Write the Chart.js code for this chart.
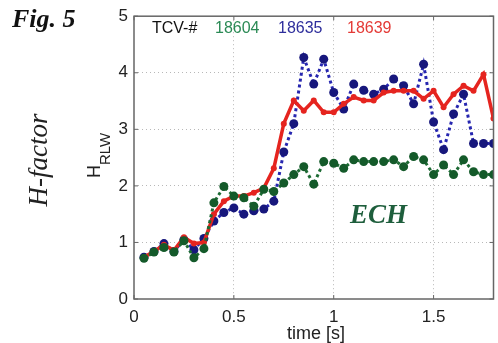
<!DOCTYPE html>
<html>
<head>
<meta charset="utf-8">
<script src="https://cdn.jsdelivr.net/npm/chart.js@4/dist/chart.umd.min.js"></script>
<style>
  html, body { margin: 0; padding: 0; background: #fff; }
  canvas { display: block; }
</style>
</head>
<body>
<canvas id="hfactor" width="498" height="343"></canvas>
<script>
// sample times [s]
const times = [0.05, 0.10, 0.15, 0.20, 0.25, 0.30, 0.35, 0.40, 0.45, 0.50, 0.55, 0.60,
  0.65, 0.70, 0.75, 0.80, 0.85, 0.90, 0.95, 1.00, 1.05, 1.10, 1.15, 1.20,
  1.25, 1.30, 1.35, 1.40, 1.45, 1.50, 1.55, 1.60, 1.65, 1.70, 1.75, 1.80]

// H_RLW per shot
const shot18604 = [0.72, 0.83, 0.91, 0.83, 1.03, 0.73, 0.89, 1.70, 1.99, 1.82, 1.79, 1.64,
  1.94, 1.90, 2.05, 2.20, 2.34, 2.03, 2.43, 2.40, 2.31, 2.46, 2.43, 2.43,
  2.43, 2.46, 2.34, 2.52, 2.46, 2.20, 2.37, 2.20, 2.46, 2.25, 2.20, 2.20]
const shot18635 = [0.74, 0.84, 0.98, 0.84, 1.05, 0.87, 1.07, 1.38, 1.53, 1.61, 1.50, 1.56,
  1.59, 1.73, 2.60, 3.10, 4.27, 3.80, 4.24, 3.65, 3.36, 3.80, 3.69, 3.62,
  3.71, 3.89, 3.77, 3.45, 4.15, 3.13, 2.64, 3.27, 3.62, 2.75, 2.75, 2.75]
const shot18639 = [0.74, 0.84, 0.96, 0.86, 1.09, 0.98, 1.00, 1.50, 1.73, 1.82, 1.82, 1.88,
  1.96, 2.31, 3.10, 3.51, 3.33, 3.51, 3.30, 3.30, 3.45, 3.57, 3.51, 3.51,
  3.65, 3.68, 3.68, 3.68, 3.54, 3.68, 3.39, 3.62, 3.77, 3.68, 3.97, 3.19]

const xTicks = [0, 0.5, 1, 1.5]
const yTicks = [0, 1, 2, 3, 4, 5]

const GREEN = '#1d6b34'
const BLUE = '#2626b0'
const RED = '#e5241f'
const SANS = '"Liberation Sans", Arial, sans-serif'
const SERIF = '"Liberation Serif", "Times New Roman", serif'

const toPoints = (values) => times.map((t, i) => ({ x: t, y: values[i] }))

// dotted grid inside the box, nothing on the frame itself
const gridColor = (ctx) => {
  const v = ctx.tick && ctx.tick.value
  return v === 0 || v === 5 || v === 1.8 ? 'rgba(0,0,0,0)' : '#b8b8b8'
}

// frame with inward tick marks plus all the free text
const annotations = {
  id: 'annotations',
  afterDraw(chart) {
    const { ctx, chartArea: a, scales } = chart
    ctx.save()

    ctx.strokeStyle = '#666'
    ctx.lineWidth = 1.5
    ctx.strokeRect(a.left, a.top, a.right - a.left, a.bottom - a.top)

    ctx.lineWidth = 1
    xTicks.forEach((v) => {
      const x = scales.x.getPixelForValue(v)
      ctx.beginPath()
      ctx.moveTo(x, a.bottom); ctx.lineTo(x, a.bottom - 4)
      ctx.moveTo(x, a.top); ctx.lineTo(x, a.top + 4)
      ctx.stroke()
    })
    yTicks.forEach((v) => {
      const y = scales.y.getPixelForValue(v)
      ctx.beginPath()
      ctx.moveTo(a.left, y); ctx.lineTo(a.left + 4, y)
      ctx.moveTo(a.right, y); ctx.lineTo(a.right - 4, y)
      ctx.stroke()
    })

    ctx.fillStyle = '#111'
    ctx.textBaseline = 'alphabetic'
    ctx.font = `italic bold 26px ${SERIF}`
    ctx.fillText('Fig. 5', 12, 27)

    // legend row
    ctx.font = `16px ${SANS}`
    ctx.fillStyle = '#111'
    ctx.fillText('TCV-#', 152, 33)
    ctx.fillStyle = '#2b8a55'
    ctx.fillText('18604', 215, 33)
    ctx.fillStyle = '#2e2e9c'
    ctx.fillText('18635', 278, 33)
    ctx.fillStyle = '#e43a36'
    ctx.fillText('18639', 347, 33)

    ctx.fillStyle = '#1e5e3c'
    ctx.font = `italic bold 27px ${SERIF}`
    ctx.fillText('ECH', 350, 223)

    ctx.fillStyle = '#222'
    ctx.font = `18px ${SANS}`
    ctx.textAlign = 'center'
    ctx.fillText('time [s]', 316, 339)

    // rotated y labels
    ctx.save()
    ctx.translate(40, 160)
    ctx.rotate(-Math.PI / 2)
    ctx.textBaseline = 'middle'
    ctx.fillStyle = '#222'
    ctx.font = `italic 27px ${SERIF}`
    ctx.fillText('H-factor', 0, 0)
    ctx.restore()

    ctx.save()
    ctx.translate(100, 178)
    ctx.rotate(-Math.PI / 2)
    ctx.textAlign = 'left'
    ctx.fillStyle = '#222'
    ctx.font = `18px ${SANS}`
    ctx.fillText('H', 0, 0)
    const w = ctx.measureText('H').width
    ctx.font = `15px ${SANS}`
    ctx.fillText('RLW', w, 10)
    ctx.restore()

    ctx.restore()
  },
}

new Chart(document.getElementById('hfactor'), {
  type: 'line',
  data: {
    datasets: [
      {
        label: '18604',
        data: toPoints(shot18604),
        borderColor: GREEN,
        borderWidth: 3,
        borderDash: [3, 3],
        pointRadius: 4.5,
        pointBackgroundColor: '#145a2a',
        pointBorderWidth: 0,
      },
      {
        label: '18639',
        data: toPoints(shot18639),
        borderColor: RED,
        borderWidth: 3.5,
        pointRadius: 3,
        pointBackgroundColor: RED,
        pointBorderWidth: 0,
      },
      {
        label: '18635',
        data: toPoints(shot18635),
        borderColor: BLUE,
        borderWidth: 3,
        borderDash: [3, 3],
        pointRadius: 4.5,
        pointBackgroundColor: '#17177c',
        pointBorderWidth: 0,
      },
    ],
  },
  options: {
    responsive: false,
    animation: false,
    layout: { padding: { top: 12, right: 2, left: 0, bottom: 0 } },
    plugins: { legend: { display: false }, tooltip: { enabled: false } },
    scales: {
      x: {
        type: 'linear',
        min: 0,
        max: 1.8,
        afterBuildTicks: (s) => { s.ticks = xTicks.map((v) => ({ value: v })) },
        afterFit: (s) => { s.height = 44 },
        grid: { color: gridColor, drawTicks: false, lineWidth: 1 },
        border: { display: false, dash: [1, 3] },
        ticks: {
          padding: 8,
          maxRotation: 0,
          color: '#222',
          font: { family: SANS, size: 17 },
          callback: (v) => String(v),
        },
      },
      y: {
        min: 0,
        max: 5,
        afterBuildTicks: (s) => { s.ticks = yTicks.map((v) => ({ value: v })) },
        afterFit: (s) => { s.width = 134 },
        grid: { color: gridColor, drawTicks: false, lineWidth: 1 },
        border: { display: false, dash: [1, 3] },
        ticks: {
          padding: 6,
          color: '#222',
          font: { family: SANS, size: 17 },
          callback: (v) => String(v),
        },
      },
    },
  },
  plugins: [annotations],
})
</script>
</body>
</html>
